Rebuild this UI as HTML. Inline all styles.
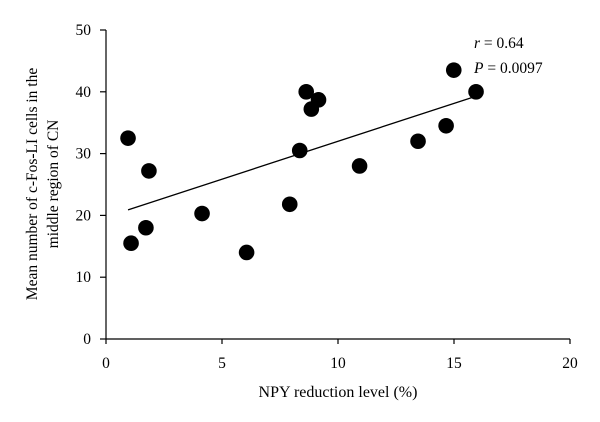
<!DOCTYPE html>
<html><head><meta charset="utf-8"><style>
html,body{margin:0;padding:0;background:#fff;}
svg{display:block;font-family:"Liberation Serif",serif;}
</style></head><body>
<svg id="chart" width="600" height="422" viewBox="0 0 600 422">
<g id="axes"></g><g id="marks"></g>
<text x="338" y="397" font-size="16" text-anchor="middle">NPY reduction level (%)</text>
<text transform="translate(37,184) rotate(-90)" font-size="15.5" text-anchor="middle">Mean number of c-Fos-LI cells in the</text>
<text transform="translate(58,184) rotate(-90)" font-size="15.5" text-anchor="middle">middle region of CN</text>
<text x="474" y="48" font-size="15.5"><tspan font-style="italic">r</tspan> = 0.64</text>
<text x="474" y="73" font-size="15.5"><tspan font-style="italic">P</tspan> = 0.0097</text>
</svg>
<script>
const xTicks=[0,5,10,15,20];
const yTicks=[0,10,20,30,40,50];
const xs=[0.95,1.08,1.72,1.85,4.14,6.06,7.92,8.35,8.63,8.85,9.16,10.93,13.45,14.66,14.99,15.95];
const ys=[32.5,15.5,18.0,27.2,20.3,14.0,21.8,30.5,40.0,37.2,38.7,28.0,32.0,34.5,43.5,40.0];
const fitX=[0.95,15.88];
const fitY=[20.9,39.2];
const NS="http://www.w3.org/2000/svg";
const X=v=>106+v*23.2;
const Y=v=>339-v*6.18;
const axes=document.getElementById('axes'),marks=document.getElementById('marks');
function mk(t,a,p){const e=document.createElementNS(NS,t);for(const k in a)e.setAttribute(k,a[k]);p.appendChild(e);return e;}
let e=mk('line',{x1:X(0),y1:Y(0),x2:X(20),y2:Y(0),stroke:'#000','stroke-width':1.2},axes);


e=mk('line',{x1:X(0),y1:Y(0),x2:X(0),y2:Y(50),stroke:'#000','stroke-width':1.2},axes);


xTicks.forEach(t=>{
 let l=mk('line',{x1:X(t),y1:Y(0),x2:X(t),y2:Y(0)+5,stroke:'#000','stroke-width':1.2},axes);
 
 
 let tx=mk('text',{x:X(t),y:368,'font-size':15.5,'text-anchor':'middle'},axes);tx.textContent=t;
 
 
});
yTicks.forEach(t=>{
 let l=mk('line',{x1:X(0)-6,y1:Y(t),x2:X(0),y2:Y(t),stroke:'#000','stroke-width':1.2},axes);
 
 
 let tx=mk('text',{x:91,y:Y(t)+5,'font-size':15.5,'text-anchor':'end'},axes);tx.textContent=t;
 
 
});
let fl=mk('line',{x1:X(fitX[0]),y1:Y(fitY[0]),x2:X(fitX[1]),y2:Y(fitY[1]),stroke:'#000','stroke-width':1.3},marks);


xs.forEach((x,i)=>{
 let c=mk('circle',{cx:X(x),cy:Y(ys[i]),r:7.8,fill:'#000'},marks);
 
 
});
</script>
</body></html>
